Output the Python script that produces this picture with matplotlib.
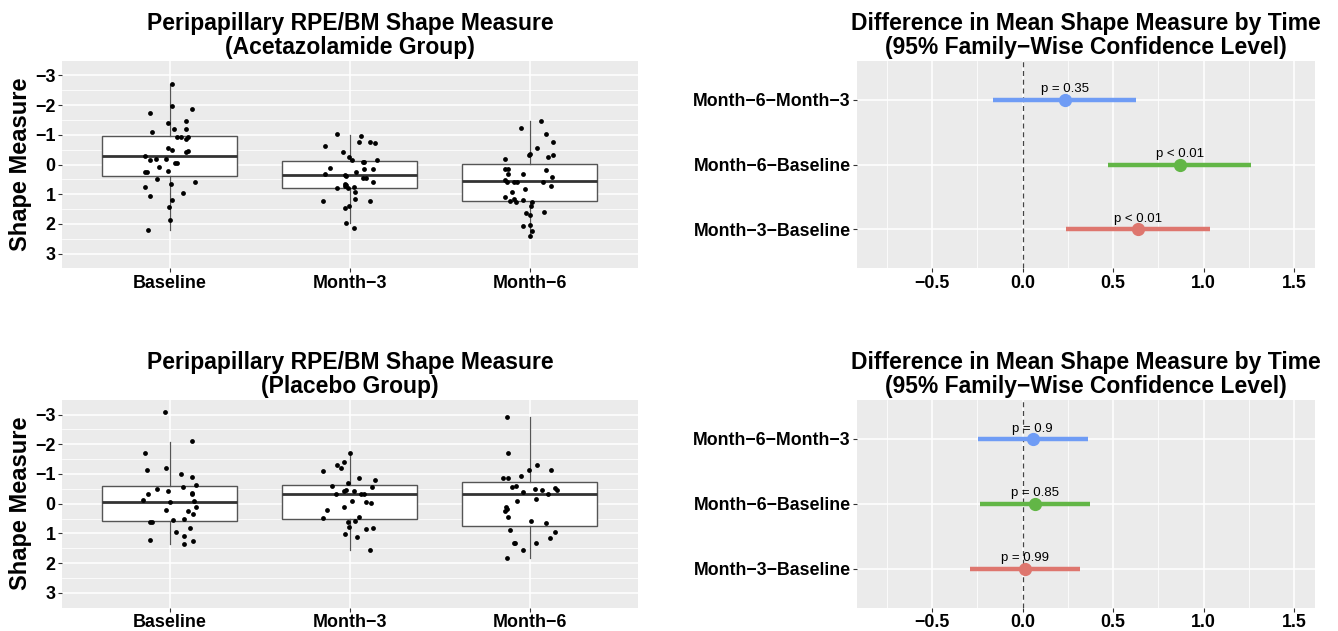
"""
Peripapillary RPE/BM shape measure by visit, with Tukey comparisons
"""

import numpy as np
import matplotlib.pyplot as plt

plt.rcParams['font.family'] = ['Liberation Sans', 'DejaVu Sans']

times = ["Baseline", "Month−3", "Month−6"]
comparisons = ["Month−3−Baseline", "Month−6−Baseline", "Month−6−Month−3"]

# --- Acetazolamide group: shape measure per eye ---
acet_baseline = [-2.72, -1.74, -1.98, -1.88, -1.47, -1.40, -1.20, -1.19, -1.08, -0.93,
                 -0.93, -0.93, -0.87, -0.54, -0.48, -0.45, -0.42, -0.27, -0.19, -0.15,
                 -0.19, -0.06, -0.06, 0.08, 0.25, 0.26, 0.23, 0.49, 0.67, 0.59,
                 0.75, 0.96, 1.06, 1.18, 1.44, 1.87, 2.20]
acet_baseline_jit = [0.01, -0.11, 0.01, 0.12, 0.09, -0.01, 0.02, 0.09, -0.10, 0.04,
                     0.06, 0.10, 0.09, -0.01, 0.01, 0.10, 0.09, -0.14, -0.08, -0.11,
                     -0.02, 0.03, 0.04, -0.06, -0.14, -0.13, -0.01, -0.07, 0.005, 0.14,
                     -0.14, 0.07, -0.11, 0.01, -0.005, 0.0, -0.12]
acet_month3 = [-0.63, -1.02, -0.96, -0.77, -0.75, -0.74, -0.43, -0.25, -0.14, -0.08,
               -0.07, -0.15, 0.12, 0.33, 0.34, 0.40, 0.24, 0.14, 0.14, 0.45,
               0.46, 0.58, 0.65, 0.69, 0.74, 0.78, 0.78, 0.76, 0.91, 1.22,
               1.22, 1.16, 1.45, 1.38, 1.97, 2.13]
acet_month3_jit = [-0.14, -0.07, 0.06, 0.05, 0.11, 0.14, -0.04, -0.005, 0.01, 0.08,
                   0.075, 0.15, -0.11, -0.14, -0.03, -0.02, 0.035, 0.13, 0.08, 0.07,
                   0.09, 0.13, -0.03, -0.02, -0.03, -0.07, -0.01, 0.02, 0.03, -0.15,
                   0.11, 0.03, -0.03, -0.005, -0.02, 0.02]
acet_month6 = [-1.45, -1.22, -1.04, -0.77, -0.54, -0.32, -0.26, -0.35, -0.32, -0.18,
               0.14, 0.14, 0.17, 0.33, 0.33, 0.42, 0.53, 0.59, 0.59, 0.59,
               0.58, 0.72, 0.82, 0.94, 1.11, 1.16, 1.23, 1.27, 1.21, 1.27,
               1.38, 1.59, 1.63, 1.69, 2.06, 2.03, 2.23, 2.40]
acet_month6_jit = [0.06, -0.05, 0.09, 0.13, 0.04, 0.13, 0.10, 0.0, -0.005, -0.14,
                   -0.12, -0.14, 0.09, -0.12, -0.04, 0.12, -0.14, -0.13, -0.09, -0.07,
                   0.07, 0.115, -0.03, -0.10, -0.14, -0.09, -0.11, -0.08, -0.04, 0.01,
                   0.005, 0.08, -0.02, 0.0, -0.04, 0.0, 0.01, 0.0]

# box stats: lower whisker, q1, median, q3, upper whisker
acet_whislo = [-2.72, -1.00, -1.45]
acet_q1 = [-0.95, -0.11, -0.01]
acet_med = [-0.27, 0.36, 0.57]
acet_q3 = [0.385, 0.78, 1.23]
acet_whishi = [2.20, 1.97, 2.40]

# --- Placebo group ---
plac_baseline = [-3.07, -2.10, -1.70, -1.13, -1.19, -1.01, -0.91, -0.62, -0.57, -0.50,
                 -0.44, -0.35, -0.31, -0.31, -0.14, -0.06, -0.08, 0.10, 0.20, 0.26,
                 0.34, 0.54, 0.53, 0.63, 0.63, 0.83, 0.94, 1.09, 1.21, 1.27, 1.36]
plac_baseline_jit = [-0.03, 0.12, -0.14, -0.13, -0.02, 0.06, 0.12, 0.145, 0.07, -0.07,
                     -0.01, 0.12, 0.12, -0.12, -0.15, 0.0, 0.135, 0.145, -0.02, 0.10,
                     0.13, 0.015, 0.08, -0.11, -0.10, 0.11, 0.035, 0.08, -0.11, 0.13, 0.08]
plac_month3 = [-1.70, -1.39, -1.29, -1.20, -1.11, -0.88, -0.80, -0.69, -0.58, -0.57,
               -0.46, -0.42, -0.42, -0.33, -0.33, -0.33, -0.10, -0.07, -0.03, 0.10,
               0.20, 0.48, 0.45, 0.62, 0.59, 0.80, 0.84, 0.82, 1.03, 1.11, 1.55]
plac_month3_jit = [0.0, -0.035, -0.07, -0.05, -0.15, 0.05, 0.14, -0.01, -0.10, 0.12,
                   -0.02, -0.035, 0.025, -0.075, 0.06, 0.08, 0.01, 0.09, 0.115, -0.035,
                   -0.13, -0.15, 0.05, -0.01, 0.03, -0.005, 0.09, 0.13, -0.03, 0.04, 0.11]
plac_month6 = [-2.91, -1.70, -1.30, -1.14, -1.14, -0.88, -0.86, -0.92, -0.60, -0.55,
               -0.51, -0.45, -0.54, -0.46, -0.40, -0.31, -0.08, -0.15, 0.11, 0.19,
               0.25, 0.45, 0.60, 0.65, 0.88, 0.97, 1.14, 1.31, 1.31, 1.31, 1.56, 1.84]
plac_month6_jit = [-0.13, -0.12, 0.04, -0.005, 0.115, -0.15, -0.12, -0.05, -0.075, -0.10,
                   0.03, 0.065, 0.14, 0.15, -0.04, 0.10, -0.07, 0.035, -0.135, -0.13,
                   -0.14, -0.12, 0.005, 0.09, -0.11, 0.14, 0.11, -0.085, -0.09, 0.035,
                   -0.04, -0.13]

plac_whislo = [-2.08, -1.70, -2.91]
plac_q1 = [-0.59, -0.62, -0.72]
plac_med = [-0.07, -0.31, -0.31]
plac_q3 = [0.59, 0.52, 0.75]
plac_whishi = [1.35, 1.55, 1.84]

# --- Tukey HSD: estimate, lower, upper, p label (order = comparisons) ---
acet_diff = [0.638, 0.869, 0.233]
acet_lwr = [0.240, 0.472, -0.162]
acet_upr = [1.033, 1.262, 0.629]
acet_plab = ["p < 0.01", "p < 0.01", "p = 0.35"]

plac_diff = [0.014, 0.069, 0.055]
plac_lwr = [-0.289, -0.233, -0.247]
plac_upr = [0.317, 0.374, 0.361]
plac_plab = ["p = 0.99", "p = 0.85", "p = 0.9"]

comp_colors = ["#DE766E", "#62B646", "#6F9CF5"]

BG = "#EBEBEB"


def style_axes(ax, ticksize):
    ax.set_facecolor(BG)
    for s in ax.spines.values():
        s.set_visible(False)
    ax.grid(True, which='major', color='white', linewidth=1.1)
    ax.grid(True, which='minor', color='white', linewidth=0.55)
    ax.set_axisbelow(True)
    ax.tick_params(which='major', length=3, width=0.8, color='#333333',
                   labelsize=ticksize, pad=1.5)
    ax.tick_params(which='minor', length=0)
    for lab in ax.get_xticklabels() + ax.get_yticklabels():
        lab.set_fontweight('bold')


def box_panel(ax, title, groups, jitters, wlo, q1, med, q3, whi):
    stats = []
    for i in range(len(times)):
        stats.append(dict(whislo=wlo[i], q1=q1[i], med=med[i], q3=q3[i],
                          whishi=whi[i], fliers=[]))
    pos = np.arange(1, len(times) + 1)
    ax.bxp(stats, positions=pos, widths=0.75, showcaps=False, patch_artist=True,
           boxprops=dict(facecolor='white', edgecolor='#555555', linewidth=1.0),
           medianprops=dict(color='#333333', linewidth=2.0),
           whiskerprops=dict(color='#555555', linewidth=0.9), zorder=2)
    for i, (vals, jit) in enumerate(zip(groups, jitters)):
        ax.scatter(pos[i] + np.array(jit), vals, s=12, color='black', zorder=3,
                   linewidths=0)
    ax.set_xlim(0.4, 3.6)
    ax.set_ylim(3.5, -3.5)
    ax.set_yticks([-3, -2, -1, 0, 1, 2, 3])
    ax.set_yticks([-2.5, -1.5, -0.5, 0.5, 1.5, 2.5], minor=True)
    ax.set_yticklabels(["−3", "−2", "−1", "0", "1", "2", "3"])
    ax.set_xticks(pos)
    ax.set_xticklabels(times)
    ax.set_ylabel("Shape Measure", fontsize=17, fontweight='bold', labelpad=2)
    ax.set_title(title, fontsize=16.5, fontweight='bold', pad=5, linespacing=1.05)
    style_axes(ax, 12.9)


def tukey_panel(ax, diff, lwr, upr, plab):
    ypos = np.arange(1, len(comparisons) + 1)
    ax.axvline(0, color='#444444', linestyle=(0, (4, 3)), linewidth=0.9, zorder=2)
    for i in range(len(comparisons)):
        ax.plot([lwr[i], upr[i]], [ypos[i], ypos[i]], color=comp_colors[i],
                linewidth=3.2, solid_capstyle='butt', zorder=3)
        ax.plot(diff[i], ypos[i], 'o', color=comp_colors[i], markersize=8.5, zorder=4)
        ax.annotate(plab[i], (diff[i], ypos[i]), xytext=(0, 3),
                    textcoords='offset points', ha='center', va='bottom',
                    fontsize=9.5, zorder=5)
    ax.set_xlim(-0.915, 1.615)
    ax.set_ylim(0.4, 3.6)
    ax.set_xticks([-0.5, 0.0, 0.5, 1.0, 1.5])
    ax.set_xticklabels(["−0.5", "0.0", "0.5", "1.0", "1.5"])
    ax.set_xticks([-0.75, -0.25, 0.25, 0.75, 1.25], minor=True)
    ax.set_yticks(ypos)
    ax.set_yticklabels(comparisons)
    ax.set_title("Difference in Mean Shape Measure by Time\n(95% Family−Wise Confidence Level)",
                 fontsize=16.5, fontweight='bold', pad=5, linespacing=1.05)
    style_axes(ax, 12.8)


fig = plt.figure(figsize=(13.38, 6.31), dpi=100)
ax1 = fig.add_axes([0.0463, 0.5745, 0.4305, 0.3296])
ax2 = fig.add_axes([0.6405, 0.5745, 0.3423, 0.3296])
ax3 = fig.add_axes([0.0463, 0.0370, 0.4305, 0.3296])
ax4 = fig.add_axes([0.6405, 0.0370, 0.3423, 0.3296])

box_panel(ax1, "Peripapillary RPE/BM Shape Measure\n(Acetazolamide Group)",
          [acet_baseline, acet_month3, acet_month6],
          [acet_baseline_jit, acet_month3_jit, acet_month6_jit],
          acet_whislo, acet_q1, acet_med, acet_q3, acet_whishi)
tukey_panel(ax2, acet_diff, acet_lwr, acet_upr, acet_plab)

box_panel(ax3, "Peripapillary RPE/BM Shape Measure\n(Placebo Group)",
          [plac_baseline, plac_month3, plac_month6],
          [plac_baseline_jit, plac_month3_jit, plac_month6_jit],
          plac_whislo, plac_q1, plac_med, plac_q3, plac_whishi)
tukey_panel(ax4, plac_diff, plac_lwr, plac_upr, plac_plab)

fig.savefig("out.png", dpi=100)
